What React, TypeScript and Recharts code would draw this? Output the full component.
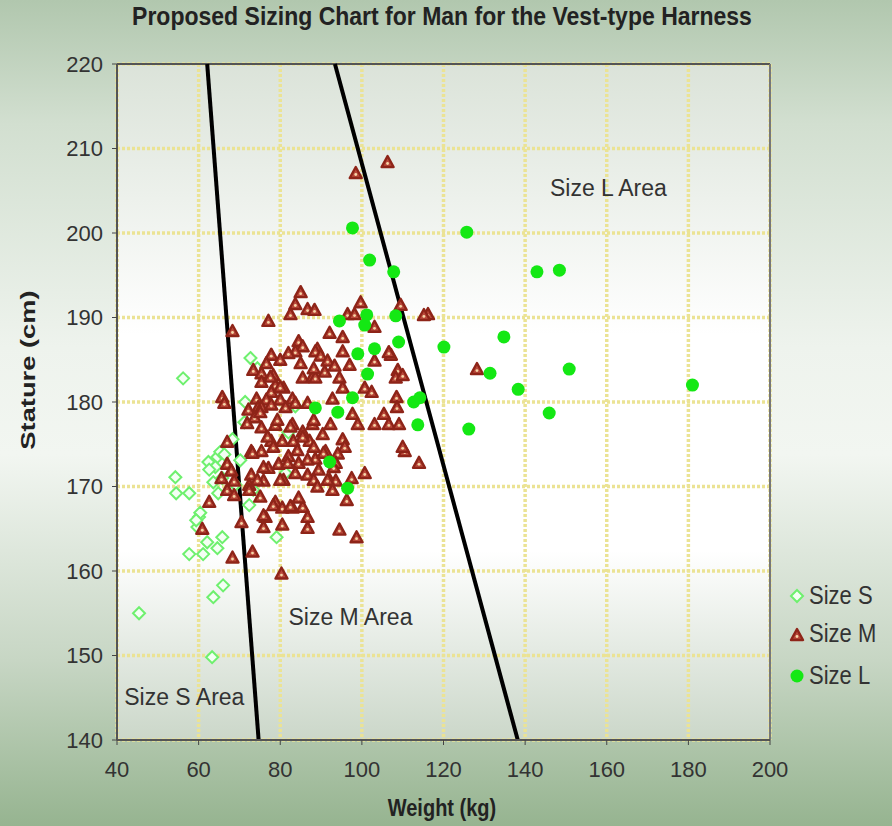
import React from 'react';
import {
  CartesianGrid,
  ReferenceDot,
  ReferenceLine,
  Scatter,
  ScatterChart,
  XAxis,
  YAxis,
} from 'recharts';

// [weight kg, stature cm]
const sizeSPoints: [number, number][] = [
  [45.4, 155.0], [56.2, 182.8], [54.3, 171.1], [54.5, 169.2], [57.7, 169.2],
  [62.4, 172.9], [64.6, 173.5], [65.3, 174.1], [64.1, 172.3], [63.6, 170.5],
  [64.8, 169.2], [60.1, 166.4], [59.7, 165.2], [62.1, 163.4], [65.8, 164.0],
  [64.6, 162.7], [57.7, 162.0], [61.1, 162.0], [66.0, 158.3], [63.6, 156.9],
  [63.3, 149.8], [72.7, 185.2], [71.4, 180.0], [74.4, 184.0], [71.2, 177.6],
  [68.3, 175.6], [82.0, 176.4], [83.7, 179.5], [66.3, 173.8], [62.6, 172.0],
  [65.8, 171.0], [72.4, 167.8], [73.4, 169.6], [81.3, 171.6], [60.4, 166.9],
  [79.1, 164.0], [70.2, 173.1], [69.0, 170.2], [59.4, 166.0],
];

const sizeMPoints: [number, number][] = [
  [98.5, 207.1], [106.3, 208.4], [85.0, 193.0], [83.7, 191.6], [86.7, 191.0],
  [88.4, 190.9], [82.5, 190.4], [77.1, 189.6], [68.3, 188.4], [84.5, 187.2],
  [85.5, 186.6], [83.7, 186.0], [82.0, 185.8], [77.8, 185.6], [80.0, 185.0],
  [76.6, 184.6], [85.0, 184.6], [89.1, 186.3], [73.4, 183.8], [75.4, 183.4],
  [78.3, 183.2], [85.5, 182.9], [87.9, 183.0], [75.4, 182.4], [78.8, 182.0],
  [80.8, 181.7], [77.8, 181.2], [65.8, 180.6], [74.2, 180.4], [76.6, 180.3],
  [80.0, 180.3], [83.0, 180.4], [74.6, 179.4], [99.7, 191.8], [96.5, 190.4],
  [98.2, 190.4], [103.1, 188.9], [116.2, 190.4], [92.1, 188.2], [95.3, 187.7],
  [95.3, 186.0], [88.6, 186.0], [89.9, 185.5], [91.6, 184.9], [93.3, 184.3],
  [90.9, 183.6], [88.6, 182.9], [94.5, 182.9], [95.3, 181.7], [92.8, 180.4],
  [100.7, 181.7], [102.4, 181.2], [107.1, 185.6], [108.8, 183.8], [108.3, 182.9],
  [110.0, 183.2], [103.1, 184.9], [108.5, 180.6], [97.0, 184.4], [88.2, 184.0],
  [66.3, 179.9], [72.2, 179.1], [75.4, 179.4], [77.8, 179.7], [81.3, 179.4],
  [83.7, 179.9], [86.7, 179.9], [73.7, 178.2], [75.4, 177.0], [78.8, 177.3],
  [83.0, 177.4], [85.5, 176.5], [87.9, 177.4], [77.8, 175.4], [80.5, 175.4],
  [83.2, 175.4], [87.2, 175.4], [67.0, 175.3], [72.9, 174.2], [75.4, 174.2],
  [82.0, 173.6], [84.5, 172.8], [79.6, 172.7], [77.1, 172.2], [67.0, 172.7],
  [68.0, 171.9], [72.9, 171.4], [83.7, 171.6], [86.7, 171.4], [65.6, 171.0],
  [68.7, 170.7], [72.4, 170.2], [75.9, 170.7], [80.8, 170.8], [67.0, 169.6],
  [68.7, 169.0], [72.4, 169.6], [75.1, 168.8], [62.6, 168.2], [78.8, 168.2],
  [83.0, 167.5], [85.5, 167.6], [80.5, 167.5], [86.7, 166.4], [76.4, 166.4],
  [60.9, 165.0], [80.5, 165.5], [84.5, 168.7], [70.5, 165.8], [88.2, 177.9],
  [90.4, 176.2], [92.3, 177.4], [97.7, 178.6], [99.0, 177.4], [103.1, 177.4],
  [105.4, 178.6], [106.6, 177.4], [108.6, 179.4], [109.1, 177.4], [95.3, 175.6],
  [95.8, 174.7], [91.1, 174.2], [88.6, 173.3], [94.1, 173.9], [93.6, 172.8],
  [89.4, 172.0], [88.2, 170.8], [92.1, 170.8], [93.6, 170.7], [97.5, 171.0],
  [100.7, 171.6], [92.8, 169.6], [96.3, 168.4], [110.5, 174.2], [114.0, 172.8],
  [94.5, 164.9], [68.3, 161.6], [73.2, 162.3], [80.3, 159.7], [75.9, 166.6],
  [75.9, 165.2], [78.3, 167.8], [82.5, 167.7], [109.5, 191.5], [115.2, 190.3],
  [106.6, 185.9], [128.2, 183.9], [110.0, 174.7], [98.7, 164.0], [86.7, 165.1],
  [77.6, 183.0], [80.0, 181.8], [75.1, 178.8], [79.3, 177.9], [82.5, 177.1],
  [85.5, 175.9], [76.9, 175.9], [84.2, 174.3], [78.3, 174.7], [88.2, 174.7],
  [90.6, 174.0], [73.2, 174.0], [71.9, 177.5], [86.7, 173.2], [81.8, 172.8],
  [75.9, 172.3], [91.6, 170.8], [93.1, 172.3], [80.0, 170.8], [74.4, 170.8],
  [89.1, 170.0],
];

const sizeLPoints: [number, number][] = [
  [97.7, 200.6], [101.9, 196.8], [107.8, 195.4], [125.7, 200.1], [142.9, 195.4],
  [148.4, 195.6], [94.5, 189.6], [101.2, 190.3], [100.7, 189.1], [108.3, 190.2],
  [109.0, 187.1], [99.0, 185.7], [103.1, 186.3], [101.4, 183.3], [97.7, 180.5],
  [88.6, 179.3], [94.1, 178.8], [112.7, 180.0], [114.2, 180.5], [113.7, 177.3],
  [92.1, 172.9], [96.5, 169.8], [120.1, 186.5], [134.8, 187.7], [131.4, 183.4],
  [150.8, 183.9], [138.3, 181.5], [181.0, 182.0], [145.9, 178.7], [126.2, 176.8],
];

// boundary lines, [weight, stature] ends
const lineSM: [number, number][] = [[62.1, 220], [74.7, 140]];
const lineML: [number, number][] = [[93.4, 220], [138.2, 140]];

const weightTicks = [40, 60, 80, 100, 120, 140, 160, 180, 200];
const statureTicks = [140, 150, 160, 170, 180, 190, 200, 210, 220];

const areaLabels: { text: string; weight: number; stature: number }[] = [
  { text: 'Size L Area', weight: 160.4, stature: 205.3 },
  { text: 'Size M Area', weight: 97.2, stature: 154.6 },
  { text: 'Size S Area', weight: 56.5, stature: 145.1 },
];

const toRows = (pts: [number, number][]) => pts.map(([weight, stature]) => ({ weight, stature }));

const FONT = '"Liberation Sans", Arial, sans-serif';

function Diamond({ cx, cy }: any) {
  if (cx == null || cy == null) return null;
  const r = 6;
  return (
    <path
      d={`M${cx},${cy - r}L${cx + r},${cy}L${cx},${cy + r}L${cx - r},${cy}Z`}
      fill="#f4fff4"
      stroke="#6ef06e"
      strokeWidth={2}
    />
  );
}

function Triangle({ cx, cy }: any) {
  if (cx == null || cy == null) return null;
  return (
    <g>
      <path
        d={`M${cx},${cy - 6}L${cx + 6},${cy + 5}L${cx - 6},${cy + 5}Z`}
        fill="#b9483a"
        stroke="#8e2418"
        strokeWidth={2.4}
        strokeLinejoin="round"
      />
      <circle cx={cx} cy={cy + 1.5} r={1.4} fill="#f6d7a8" />
    </g>
  );
}

function Dot({ cx, cy }: any) {
  if (cx == null || cy == null) return null;
  return <circle cx={cx} cy={cy} r={6.5} fill="#14e814" />;
}

const legendItems = [
  { label: 'Size S', y: 597, kind: 's' },
  { label: 'Size M', y: 635, kind: 'm' },
  { label: 'Size L', y: 677, kind: 'l' },
];

function LegendMarker({ kind }: { kind: string }) {
  return (
    <svg width={16} height={16} style={{ display: 'block' }}>
      {kind === 's' && <Diamond cx={8} cy={8} />}
      {kind === 'm' && <Triangle cx={8} cy={9} />}
      {kind === 'l' && <Dot cx={8} cy={8} />}
    </svg>
  );
}

export default function App() {
  return (
    <div
      style={{
        position: 'fixed',
        left: 0,
        top: 0,
        width: 892,
        height: 826,
        overflow: 'hidden',
        fontFamily: FONT,
        background:
          'linear-gradient(to bottom, #b1c7ae 0%, #d2dfd0 15%, #eef3ed 42%, #f2f6f1 55%, #c7d6c4 80%, #96b490 100%)',
      }}
    >
      <div
        style={{
          position: 'absolute',
          left: 0,
          width: 884,
          top: 3,
          textAlign: 'center',
          fontWeight: 'bold',
          fontSize: 23,
          color: '#222',
          transform: 'scaleY(1.15)',
        }}
      >
        Proposed Sizing Chart for Man for the Vest-type Harness
      </div>

      <div style={{ position: 'absolute', left: 0, top: 0 }}>
        <ScatterChart
          width={892}
          height={826}
          margin={{ top: 64, right: 122, bottom: 26, left: 57 }}
          style={{ fontFamily: FONT }}
        >
          <defs>
            <linearGradient id="plotBg" x1="0" y1="0" x2="0" y2="1">
              <stop offset="0%" stopColor="#dbe3d9" />
              <stop offset="40%" stopColor="#ffffff" />
              <stop offset="72%" stopColor="#ffffff" />
              <stop offset="100%" stopColor="#cbd7c9" />
            </linearGradient>
          </defs>
          <CartesianGrid
            fill="url(#plotBg)"
            stroke="#ebe394"
            strokeWidth={3.5}
            strokeDasharray="3 2"
          />
          <XAxis
            type="number"
            dataKey="weight"
            domain={[40, 200]}
            ticks={weightTicks}
            allowDataOverflow
            height={60}
            tickSize={5}
            tickMargin={16}
            axisLine={{ stroke: '#555', strokeWidth: 2 }}
            tickLine={{ stroke: '#444' }}
            tick={{ fill: '#333', fontSize: 22 }}
          />
          <YAxis
            type="number"
            dataKey="stature"
            domain={[140, 220]}
            ticks={statureTicks}
            allowDataOverflow
            width={60}
            tickSize={5}
            tickMargin={9}
            axisLine={{ stroke: '#555', strokeWidth: 2 }}
            tickLine={{ stroke: '#444' }}
            tick={{ fill: '#333', fontSize: 22 }}
          />
          <ReferenceLine y={220} stroke="#555" strokeWidth={2} />
          <ReferenceLine x={200} stroke="#777" strokeWidth={2} />
          <Scatter data={toRows(sizeSPoints)} shape={<Diamond />} isAnimationActive={false} />
          <Scatter data={toRows(sizeMPoints)} shape={<Triangle />} isAnimationActive={false} />
          <Scatter data={toRows(sizeLPoints)} shape={<Dot />} isAnimationActive={false} />
          <ReferenceLine
            segment={lineSM.map(([x, y]) => ({ x, y }))}
            stroke="#000"
            strokeWidth={4}
          />
          <ReferenceLine
            segment={lineML.map(([x, y]) => ({ x, y }))}
            stroke="#000"
            strokeWidth={4}
          />
          {areaLabels.map((a) => (
            <ReferenceDot
              key={a.text}
              x={a.weight}
              y={a.stature}
              r={0}
              stroke="none"
              fill="none"
              label={{ value: a.text, position: 'center', fill: '#333', fontSize: 23 }}
            />
          ))}
        </ScatterChart>
      </div>

      <div
        style={{
          position: 'absolute',
          left: 28,
          top: 370,
          width: 0,
          height: 0,
        }}
      >
        <div
          style={{
            position: 'absolute',
            left: -100,
            top: -12,
            width: 200,
            textAlign: 'center',
            fontWeight: 'bold',
            fontSize: 21,
            color: '#222',
            transform: 'rotate(-90deg) scaleX(1.3)',
          }}
        >
          Stature (cm)
        </div>
      </div>

      <div
        style={{
          position: 'absolute',
          left: 0,
          width: 884,
          top: 797,
          textAlign: 'center',
          fontWeight: 'bold',
          fontSize: 20,
          color: '#222',
          transform: 'scaleY(1.2)',
        }}
      >
        Weight (kg)
      </div>

      {legendItems.map((it) => (
        <div
          key={it.label}
          style={{
            position: 'absolute',
            left: 789,
            top: it.y - 14,
            display: 'flex',
            alignItems: 'center',
            gap: 4,
            fontSize: 22,
            color: '#333',
          }}
        >
          <LegendMarker kind={it.kind} />
          <span style={{ display: 'inline-block', transform: 'scaleY(1.15)' }}>{it.label}</span>
        </div>
      ))}
    </div>
  );
}
